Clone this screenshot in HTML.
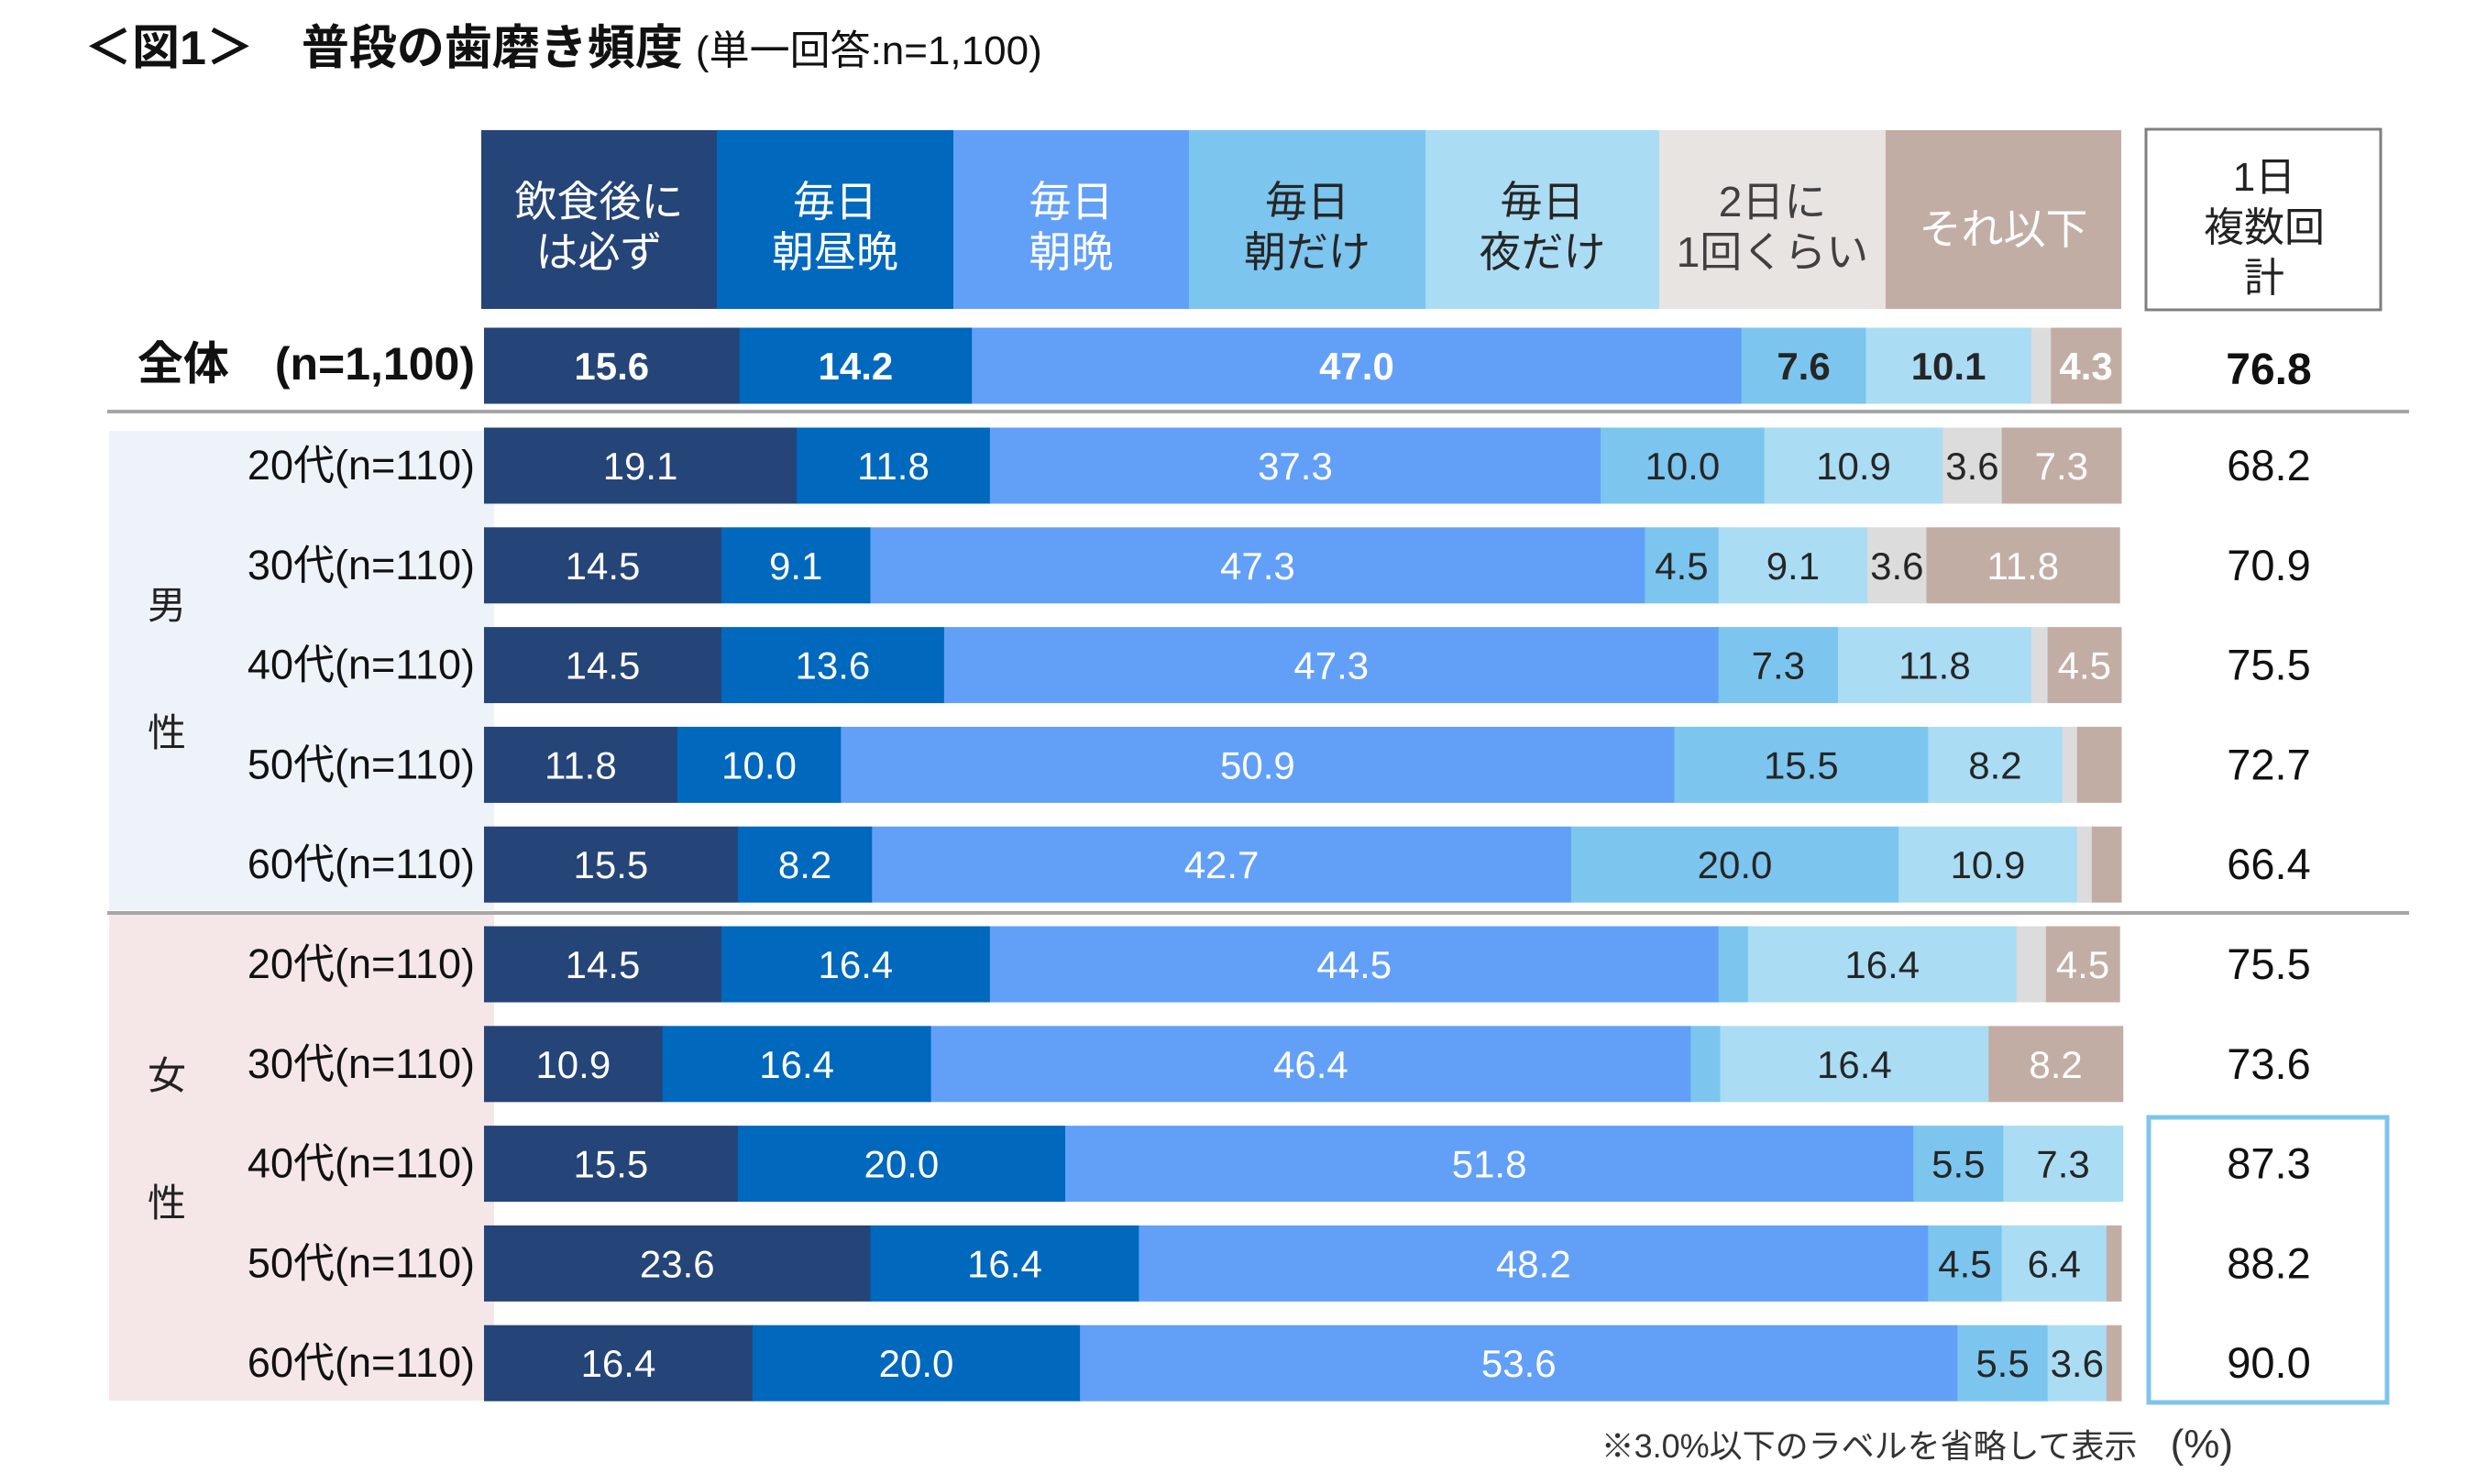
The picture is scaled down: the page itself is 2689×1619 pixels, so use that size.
<!DOCTYPE html>
<html><head><meta charset="utf-8"><style>
html,body{margin:0;padding:0;background:#fff;}
svg{display:block;font-family:"Liberation Sans","Noto Sans CJK JP",sans-serif;}
</style></head><body>
<svg id="chart" width="2689" height="1619" viewBox="0 0 2689 1619" xmlns="http://www.w3.org/2000/svg">
<g id="static">
<text x="92" y="70" font-size="52" font-weight="bold" fill="#111">＜図1＞　普段の歯磨き頻度<tspan font-size="44" font-weight="normal" dx="14">(単一回答:n=1,100)</tspan></text>
<rect x="119" y="470" width="420" height="523" fill="#eef3fa"/>
<rect x="119" y="998" width="420" height="530" fill="#f5e7e7"/>
<text x="182" y="675" font-size="42" fill="#222" text-anchor="middle">男</text>
<text x="182" y="814" font-size="42" fill="#222" text-anchor="middle">性</text>
<text x="182" y="1188" font-size="42" fill="#222" text-anchor="middle">女</text>
<text x="182" y="1327" font-size="42" fill="#222" text-anchor="middle">性</text>
<rect x="117" y="447" width="2511" height="4" fill="#a6a6a6"/>
<rect x="117" y="994" width="2511" height="4" fill="#a6a6a6"/>
<rect x="2341" y="141" width="256" height="197" fill="#fff" stroke="#7f7f7f" stroke-width="3"/>
<text x="2470" y="208" font-size="44" fill="#222" text-anchor="middle">1日<tspan x="2470" dy="55">複数回</tspan><tspan x="2470" dy="55">計</tspan></text>
<rect x="2344" y="1219" width="260" height="311" fill="none" stroke="#7fc4ea" stroke-width="5"/>
<text x="2436" y="1590" font-size="36" fill="#333" text-anchor="end">※3.0%以下のラベルを省略して表示　<tspan font-size="44">(%)</tspan></text>
</g>
<g id="header"></g>
<g id="bars"></g>
</svg>
<script>
const categories = ["飲食後には必ず","毎日朝昼晩","毎日朝晩","毎日朝だけ","毎日夜だけ","2日に1回くらい","それ以下"];
const headerLines = [["飲食後に","は必ず"],["毎日","朝昼晩"],["毎日","朝晩"],["毎日","朝だけ"],["毎日","夜だけ"],["2日に","1回くらい"],["それ以下"]];
const rowLabels = ["全体　(n=1,100)","20代(n=110)","30代(n=110)","40代(n=110)","50代(n=110)","60代(n=110)","20代(n=110)","30代(n=110)","40代(n=110)","50代(n=110)","60代(n=110)"];
const s1 = [15.6,19.1,14.5,14.5,11.8,15.5,14.5,10.9,15.5,23.6,16.4];
const s2 = [14.2,11.8,9.1,13.6,10.0,8.2,16.4,16.4,20.0,16.4,20.0];
const s3 = [47.0,37.3,47.3,47.3,50.9,42.7,44.5,46.4,51.8,48.2,53.6];
const s4 = [7.6,10.0,4.5,7.3,15.5,20.0,1.8,1.8,5.5,4.5,5.5];
const s5 = [10.1,10.9,9.1,11.8,8.2,10.9,16.4,16.4,7.3,6.4,3.6];
const s6 = [1.2,3.6,3.6,1.0,0.9,0.9,1.8,0.0,0.0,0.0,0.0];
const s7 = [4.3,7.3,11.8,4.5,2.7,1.8,4.5,8.2,0.0,0.9,0.9];
const totals = ["76.8","68.2","70.9","75.5","72.7","66.4","75.5","73.6","87.3","88.2","90.0"];

const series=[s1,s2,s3,s4,s5,s6,s7];
const colors=["#254478","#0068bd","#62a0f8","#7cc5ee","#aadcf4","#dcdcdc","#c2ada5"];
const headColors=["#254478","#0068bd","#62a0f8","#7cc5ee","#aadcf4","#e8e4e2","#c2ada5"];
const labelColors=["#fff","#fff","#fff","#262626","#262626","#262626","#fff"];
const headText=["#fff","#fff","#fff","#262626","#262626","#404040","#fff"];
const NS="http://www.w3.org/2000/svg";
const X0=528,X1=2314;
function xScale(v){return X0+(X1-X0)*v/100;}
function yRow(i){return i===0?399:508+(i-1)*108.8;}
function mk(tag,attrs,parent){const e=document.createElementNS(NS,tag);for(const k in attrs)e.setAttribute(k,attrs[k]);parent.appendChild(e);return e;}
const hg=document.getElementById('header'), bg=document.getElementById('bars');
const hx=[525,782,1040,1297,1555,1810,2057,2314];
categories.forEach((c,j)=>{
  const r=mk('rect',{x:hx[j],y:142,width:hx[j+1]-hx[j],height:195,fill:headColors[j]},hg);
  
  
  const lines=headerLines[j];
  lines.forEach((ln,k)=>{
    const y=lines.length===1?266:236+k*55;
    const t=mk('text',{x:(hx[j]+hx[j+1])/2,y:y,'font-size':46,fill:headText[j],'text-anchor':'middle'},hg);
    
    
    t.textContent=ln;
  });
});
rowLabels.forEach((lab,i)=>{
  const yc=yRow(i), h=83, bold=i===0;
  const t=mk('text',{x:518,y:yc+15,'font-size':bold?50:45,'font-weight':bold?'bold':'normal',fill:'#111','text-anchor':'end'},bg);
  
  
  t.textContent=lab;
  let cum=0;
  series.forEach((s,j)=>{
    const v=s[i]; if(v<=0)return;
    const xa=xScale(cum), xb=xScale(cum+v); cum+=v;
    const r=mk('rect',{x:xa,y:yc-h/2,width:xb-xa+0.5,height:h,fill:colors[j]},bg);
    
    
    if(v>3.0){
      const tl=mk('text',{x:(xa+xb)/2,y:yc+15,'font-size':42,'font-weight':bold?'bold':'normal',fill:labelColors[j],'text-anchor':'middle'},bg);
      
      
      tl.textContent=v.toFixed(1);
    }
  });
  const tt=mk('text',{x:2475,y:yc+(bold?20:16),'font-size':bold?48:47,'font-weight':bold?'bold':'normal',fill:'#111','text-anchor':'middle'},bg);
  
  
  tt.textContent=totals[i];
});
</script>
</body></html>
